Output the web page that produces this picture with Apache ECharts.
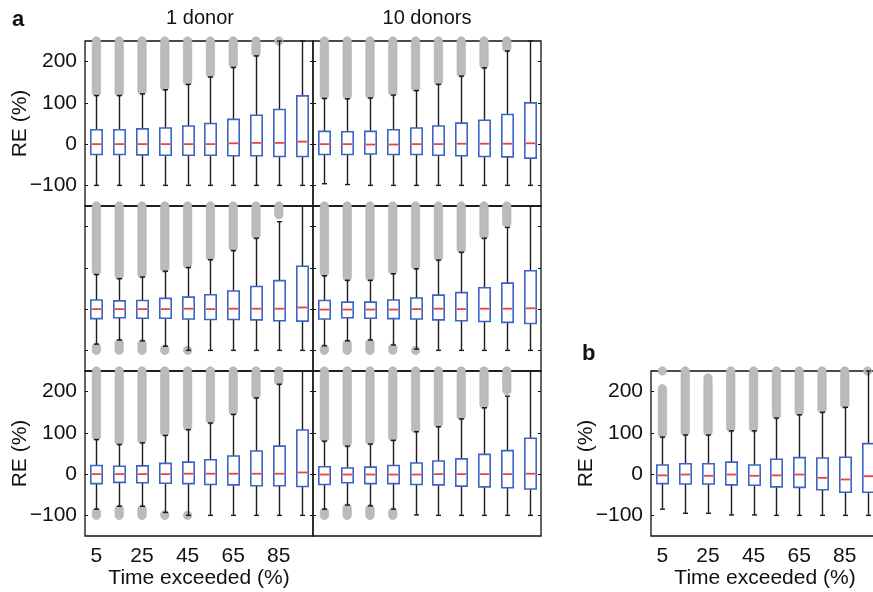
<!DOCTYPE html>
<html><head><meta charset="utf-8">
<script src="https://cdn.jsdelivr.net/npm/echarts@6/dist/echarts.min.js"></script>
<style>html,body{margin:0;padding:0;background:#fff}#c{width:873px;height:592px}</style>
</head><body><div id="c"></div>
<script>
// categories: time exceeded (%)
const categories = ['5','15','25','35','45','55','65','75','85','95'];
const yTickValues = [-100, 0, 100, 200];

// Box rows: [lowWhisker, Q1, median, Q3, highWhisker]
// Panel a, 1 donor, row 1
const a1Box = [[-100,-25,0,35,118],[-100,-25,0,35,118],[-100,-26,0,37,122],[-100,-27,0,39,132],[-100,-27,0,44,145],[-100,-27,0,50,163],[-100,-28,2,60,186],[-100,-28,3,70,214],[-100,-30,3,84,250],[-100,-30,6,117,250]];
const a1Up = [[[125,250]],[[125,250]],[[129,250]],[[139,250]],[[152,250]],[[170,250]],[[193,250]],[[221,250]],[[250,250]],[]];
const a1Low = [[],[],[],[],[],[],[],[],[],[]];
// Panel a, 10 donors, row 1
const a2Box = [[-96,-25,0,31,111],[-98,-25,0,30,110],[-100,-24,-1,31,112],[-100,-25,-1,35,119],[-100,-25,0,39,130],[-100,-27,0,44,145],[-100,-28,1,51,165],[-100,-30,1,58,185],[-100,-31,1,72,226],[-100,-34,2,100,250]];
const a2Up = [[[118,250]],[[117,250]],[[119,250]],[[126,250]],[[137,250]],[[152,250]],[[172,250]],[[192,250]],[[233,250]],[]];
const a2Low = [[],[],[],[],[],[],[],[],[],[]];
// Panel a, 1 donor, row 2
const b1Box = [[-85,-23,0,22,84],[-75,-21,0,20,74],[-77,-22,0,21,78],[-90,-22,0,26,92],[-100,-24,1,29,101],[-100,-25,0,35,120],[-100,-25,1,44,142],[-100,-26,1,55,172],[-100,-28,1,69,212],[-100,-29,4,104,250]];
const b1Up = [[[91,250]],[[81,250]],[[85,250]],[[99,250]],[[108,250]],[[127,250]],[[149,250]],[[179,250]],[[229,250]],[]];
const b1Low = [[[-100,-92]],[[-100,-82]],[[-100,-84]],[[-100,-97]],[[-100,-100]],[],[],[],[],[]];
// Panel a, 10 donors, row 2
const b2Box = [[-89,-24,-1,21,81],[-77,-21,-1,17,70],[-75,-22,-1,17,70],[-87,-23,-1,22,86],[-97,-24,0,27,98],[-100,-26,1,34,119],[-100,-28,0,40,138],[-100,-30,1,52,172],[-100,-32,1,63,198],[-100,-35,2,93,250]];
const b2Up = [[[88,250]],[[77,250]],[[77,250]],[[93,250]],[[105,250]],[[126,250]],[[145,250]],[[179,250]],[[208,250]],[]];
const b2Low = [[[-100,-96]],[[-100,-84]],[[-100,-82]],[[-100,-94]],[[-100,-100]],[],[],[],[],[]];
// Panel a, 1 donor, row 3
const c1Box = [[-85,-23,0,21,84],[-78,-20,0,19,72],[-78,-21,0,20,76],[-93,-22,0,26,94],[-100,-23,1,29,108],[-100,-25,1,35,124],[-100,-26,1,44,145],[-100,-28,1,56,185],[-100,-28,1,68,218],[-100,-30,4,107,250]];
const c1Up = [[[91,250]],[[79,250]],[[83,250]],[[101,250]],[[115,250]],[[131,250]],[[152,250]],[[192,250]],[[225,250]],[]];
const c1Low = [[[-100,-92]],[[-100,-85]],[[-100,-85]],[[-100,-98]],[[-100,-100]],[],[],[],[],[]];
// Panel a, 10 donors, row 3
const c2Box = [[-85,-25,-1,18,80],[-75,-21,-1,15,68],[-77,-23,-1,17,73],[-85,-23,-1,21,82],[-99,-25,-1,27,103],[-100,-26,0,32,115],[-100,-29,0,37,134],[-100,-31,0,48,161],[-100,-33,0,57,189],[-100,-36,1,87,250]];
const c2Up = [[[87,250]],[[75,250]],[[80,250]],[[89,250]],[[110,250]],[[122,250]],[[141,250]],[[168,250]],[[203,250]],[]];
const c2Low = [[[-100,-92]],[[-100,-82]],[[-100,-84]],[[-100,-92]],[],[],[],[],[],[]];
// Panel b
const pbBox = [[-85,-23,-3,22,90],[-95,-24,-1,25,95],[-95,-24,-4,25,95],[-99,-26,-1,29,105],[-99,-27,-4,22,105],[-100,-31,-3,36,136],[-100,-32,-1,40,144],[-100,-38,-9,39,150],[-100,-44,-13,41,162],[-100,-44,-5,74,250]];
const pbUp = [[[97,207],[250,250]],[[102,250]],[[102,233]],[[112,250]],[[112,250]],[[143,250]],[[151,250]],[[157,250]],[[169,250]],[[250,250]]];
const pbLow = [[],[],[],[],[],[],[],[],[],[]];

const FONT = 'Liberation Sans, Arial, Helvetica, sans-serif';
const INK = '#111';

const panels = [
  {box:a1Box, up:a1Up, low:a1Low, left:85,  top:41,  showY:true,  showX:false},
  {box:a2Box, up:a2Up, low:a2Low, left:313, top:41,  showY:false, showX:false},
  {box:b1Box, up:b1Up, low:b1Low, left:85,  top:206, showY:false, showX:false},
  {box:b2Box, up:b2Up, low:b2Low, left:313, top:206, showY:false, showX:false},
  {box:c1Box, up:c1Up, low:c1Low, left:85,  top:371, showY:true,  showX:true},
  {box:c2Box, up:c2Up, low:c2Low, left:313, top:371, showY:false, showX:false},
  {box:pbBox, up:pbUp, low:pbLow, left:651, top:371, showY:true,  showX:true}
];

function renderOut(params, api) {
  const i = api.value(0);
  const x = api.coord([i, 0])[0];
  const yLo = api.coord([i, api.value(1)])[1];
  const yHi = api.coord([i, api.value(2)])[1];
  const r = 4.2;
  return {type:'rect', shape:{x:x-r, y:yHi-r, width:2*r, height:(yLo-yHi)+2*r, r:r},
    style:{fill:'#b9bcbc', stroke:'#aaaeae', lineWidth:0.6}};
}
function renderBox(params, api) {
  const i = api.value(0);
  const lowP = api.coord([i, api.value(1)]);
  const q1P = api.coord([i, api.value(2)]);
  const medP = api.coord([i, api.value(3)]);
  const q3P = api.coord([i, api.value(4)]);
  const hiP = api.coord([i, api.value(5)]);
  const bw = api.size([1, 0])[0] * 0.5;
  const x = Math.round(lowP[0]) + 0.5;
  const cap = 2.5;
  const wl = {stroke:'#1c1c1c', lineWidth:1.4};
  return {type:'group', children:[
    {type:'line', shape:{x1:x, y1:hiP[1], x2:x, y2:q3P[1]}, style:wl},
    {type:'line', shape:{x1:x, y1:q1P[1], x2:x, y2:lowP[1]}, style:wl},
    {type:'line', shape:{x1:x-cap, y1:hiP[1], x2:x+cap, y2:hiP[1]}, style:wl},
    {type:'line', shape:{x1:x-cap, y1:lowP[1], x2:x+cap, y2:lowP[1]}, style:wl},
    {type:'rect', shape:{x:x-bw/2, y:q3P[1], width:bw, height:q1P[1]-q3P[1]}, style:{fill:'#fff', stroke:'#3d64c2', lineWidth:1.6}},
    {type:'line', shape:{x1:x-bw/2+1, y1:medP[1], x2:x+bw/2-1, y2:medP[1]}, style:{stroke:'#e8433d', lineWidth:1.8}}
  ]};
}

const grids = [], xAxes = [], yAxes = [], series = [];
const fmt = v => v < 0 ? '\u2212' + (-v) : String(v);
panels.forEach((p, k) => {
  grids.push({left:p.left, top:p.top, width:228, height:165, show:true, borderColor:INK, borderWidth:1.3,
    backgroundColor:'transparent', containLabel:false, outerBoundsMode:'none'});
  xAxes.push({type:'category', gridIndex:k, data:categories, boundaryGap:true,
    axisLine:{show:false},
    axisTick:{show:true, inside:true, length:3, alignWithLabel:true, interval:0, lineStyle:{color:INK}},
    axisLabel:{show:p.showX, interval:1, fontSize:21, color:INK, margin:10, fontFamily:FONT},
    splitLine:{show:false},
    name:p.showX ? 'Time exceeded (%)' : '', nameLocation:'middle', nameGap:32, nameMoveOverlap:false,
    nameTextStyle:{fontSize:21, color:INK, fontFamily:FONT}});
  yAxes.push({type:'value', gridIndex:k, min:-150, max:250, position:'left',
    axisLine:{show:false},
    axisTick:{show:true, inside:true, length:3, customValues:yTickValues, lineStyle:{color:INK}},
    axisLabel:{show:p.showY, customValues:yTickValues, formatter:fmt, fontSize:21, color:INK, margin:8, fontFamily:FONT},
    splitLine:{show:false},
    name:p.showY ? 'RE (%)' : '', nameLocation:'middle', nameGap:54, nameRotate:90, nameMoveOverlap:false,
    nameTextStyle:{fontSize:21, color:INK, fontFamily:FONT}});
  yAxes.push({type:'value', gridIndex:k, min:-150, max:250, position:'right',
    axisLine:{show:false},
    axisTick:{show:true, inside:true, length:3, customValues:yTickValues, lineStyle:{color:INK}},
    axisLabel:{show:false}, splitLine:{show:false}});
  const outData = [];
  p.up.forEach((segs, i) => segs.forEach(s => outData.push([i, s[0], s[1]])));
  p.low.forEach((segs, i) => segs.forEach(s => outData.push([i, s[0], s[1]])));
  series.push({type:'custom', xAxisIndex:k, yAxisIndex:2*k, renderItem:renderOut, data:outData, z:2, clip:false, silent:true});
  series.push({type:'custom', xAxisIndex:k, yAxisIndex:2*k, renderItem:renderBox,
    data:p.box.map((b, i) => [i, b[0], b[1], b[2], b[3], b[4]]), z:3, clip:false, silent:true});
});

const chart = echarts.init(document.getElementById('c'), null, {renderer:'canvas'});
chart.setOption({
  animation:false,
  backgroundColor:'#fff',
  textStyle:{fontFamily:FONT},
  grid:grids, xAxis:xAxes, yAxis:yAxes, series:series,
  graphic:[
    {type:'text', left:12, top:9, style:{text:'a', font:'bold 22px ' + FONT, fill:INK}},
    {type:'text', left:582, top:343, style:{text:'b', font:'bold 22px ' + FONT, fill:INK}},
    {type:'text', x:200, y:18, style:{text:'1 donor', font:'20px ' + FONT, fill:INK, align:'center', verticalAlign:'middle'}},
    {type:'text', x:427, y:18, style:{text:'10 donors', font:'20px ' + FONT, fill:INK, align:'center', verticalAlign:'middle'}}
  ]
});
</script>
</body></html>
